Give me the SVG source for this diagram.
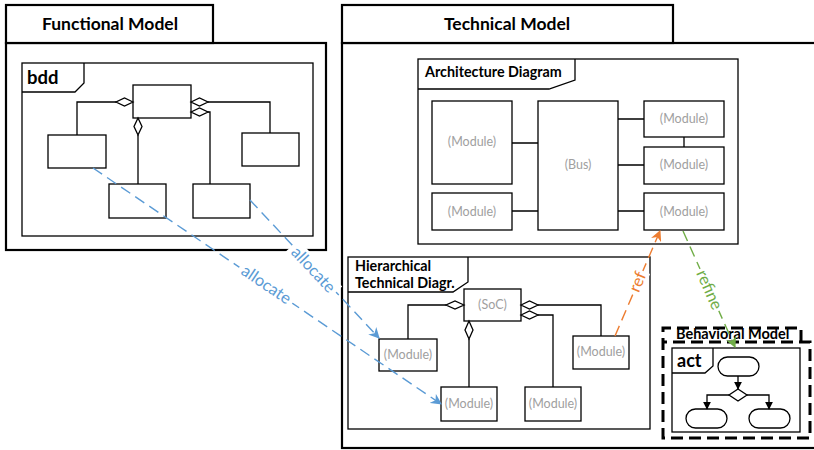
<svg xmlns="http://www.w3.org/2000/svg" width="814" height="450" viewBox="0 0 814 450">
  <style>
    .frame { fill: #fff; stroke: #000; stroke-width: 2.2; }
    .sub { fill: #fff; stroke: #000; stroke-width: 1.3; }
    .box { fill: #fff; stroke: #000; stroke-width: 1.3; }
    .ln { fill: none; stroke: #000; stroke-width: 1.3; }
    .dia { fill: #fff; stroke: #000; stroke-width: 1.3; }
    .title { font-family: Lato, "Liberation Sans", sans-serif; font-weight: bold; font-size: 17.5px; fill: #000; }
    .tab { font-family: Lato, "Liberation Sans", sans-serif; font-weight: bold; font-size: 14.3px; fill: #000; }
    .mod { font-family: Lato, "Liberation Sans", sans-serif; font-size: 12.5px; fill: #a0a0a0; text-anchor: middle; }
    .lbl { font-family: Lato, "Liberation Sans", sans-serif; font-size: 16.5px; text-anchor: middle; }
    .dash { fill: none; stroke-width: 1.4; stroke-dasharray: 11 6; }
    .bdash { fill: none; stroke: #000; stroke-width: 3; stroke-dasharray: 12 6; }
  </style>
  <defs>
    <marker id="arrBlue" viewBox="0 0 10 10" refX="9" refY="5" markerWidth="11" markerHeight="11" markerUnits="userSpaceOnUse" orient="auto">
      <path d="M0,0 L10,5 L0,10 L3,5 Z" fill="#5b9bd5"/>
    </marker>
    <marker id="arrOrange" viewBox="0 0 10 10" refX="9" refY="5" markerWidth="11" markerHeight="11" markerUnits="userSpaceOnUse" orient="auto">
      <path d="M0,0 L10,5 L0,10 L3,5 Z" fill="#ed7d31"/>
    </marker>
    <marker id="arrGreen" viewBox="0 0 10 10" refX="9" refY="5" markerWidth="11" markerHeight="11" markerUnits="userSpaceOnUse" orient="auto">
      <path d="M0,0 L10,5 L0,10 L3,5 Z" fill="#70ad47"/>
    </marker>
    <marker id="arrBlack" viewBox="0 0 10 10" refX="9" refY="5" markerWidth="8" markerHeight="8" markerUnits="userSpaceOnUse" orient="auto">
      <path d="M0,0 L10,5 L0,10 Z" fill="#000"/>
    </marker>
  </defs>

  <rect width="814" height="450" fill="#fff"/>

  <!-- Functional Model package -->
  <g id="functional-model">
    <rect class="frame" x="6" y="43" width="320" height="207"/>
    <rect class="frame" x="6" y="5" width="207" height="38"/>
    <text class="title" x="110" y="30" text-anchor="middle">Functional Model</text>

    <g id="bdd">
      <rect class="sub" x="22" y="63" width="291" height="173"/>
      <path class="ln" d="M22,92 L75,92 L84,83 L84,63"/>
      <text class="title" x="27" y="84" style="font-size:18.5px">bdd</text>

      <rect class="box" x="133" y="85" width="58" height="33"/>
      <rect class="box" x="48" y="135" width="58" height="33"/>
      <rect class="box" x="109" y="184" width="57" height="34"/>
      <rect class="box" x="193" y="184" width="57" height="34"/>
      <rect class="box" x="242" y="133" width="57" height="33"/>

      <path class="ln" d="M116,102 L77,102 L77,135"/>
      <path class="dia" d="M133,102 L124.5,98 L116,102 L124.5,106 Z"/>
      <path class="ln" d="M138,135 L138,184"/>
      <path class="dia" d="M138,118 L134,126.5 L138,135 L142,126.5 Z"/>
      <path class="ln" d="M208,102 L270,102 L270,133"/>
      <path class="dia" d="M191,102 L199.5,98 L208,102 L199.5,106 Z"/>
      <path class="ln" d="M208,112 L210,112 L210,184"/>
      <path class="dia" d="M191,112 L199.5,108 L208,112 L199.5,116 Z"/>
    </g>
  </g>

  <!-- Technical Model package -->
  <g id="technical-model">
    <rect class="frame" x="342" y="43" width="480" height="405"/>
    <rect class="frame" x="342" y="5" width="331" height="38"/>
    <text class="title" x="507" y="30" text-anchor="middle">Technical Model</text>

    <g id="architecture-diagram">
      <rect class="sub" x="418" y="59" width="320" height="185"/>
      <path class="ln" d="M418,89 L549,89 L575,80 L575,59"/>
      <text class="tab" x="425" y="77">Architecture Diagram</text>

      <g id="arch-module-a">
        <rect class="box" x="432" y="101" width="80" height="83"/>
        <text class="mod" x="472" y="146">(Module)</text>
      </g>
      <g id="arch-module-b">
        <rect class="box" x="432" y="193" width="80" height="37"/>
        <text class="mod" x="472" y="216">(Module)</text>
      </g>
      <g id="arch-bus">
        <rect class="box" x="538" y="101" width="80" height="129"/>
        <text class="mod" x="578" y="169">(Bus)</text>
      </g>
      <g id="arch-module-c">
        <rect class="box" x="644" y="101" width="80" height="36"/>
        <text class="mod" x="684" y="123">(Module)</text>
      </g>
      <g id="arch-module-d">
        <rect class="box" x="644" y="147" width="80" height="37"/>
        <text class="mod" x="684" y="169">(Module)</text>
      </g>
      <g id="arch-module-e">
        <rect class="box" x="644" y="193" width="80" height="37"/>
        <text class="mod" x="684" y="216">(Module)</text>
      </g>
      <g class="arch-links">
        <path class="ln" d="M512,143 L538,143 M512,211 L538,211 M618,119 L644,119 M618,165 L644,165 M618,211 L644,211 M684,137 L684,147"/>
      </g>
    </g>

    <g id="hierarchical-diagram">
      <rect class="sub" x="348" y="257" width="302" height="172"/>
      <path class="ln" d="M348,292 L453,292 L468,282 L468,257"/>
      <text class="tab" x="355" y="271">Hierarchical</text>
      <text class="tab" x="355" y="288">Technical Diagr.</text>

      <g id="soc">
        <rect class="box" x="464" y="289" width="57" height="32"/>
        <text class="mod" x="492.5" y="309">(SoC)</text>
      </g>
      <g id="hier-module-left">
        <rect class="box" x="379" y="339" width="58" height="32"/>
        <text class="mod" x="408" y="359">(Module)</text>
      </g>
      <g id="hier-module-mid">
        <rect class="box" x="441" y="387" width="56" height="34"/>
        <text class="mod" x="469" y="408">(Module)</text>
      </g>
      <g id="hier-module-bottom-right">
        <rect class="box" x="525" y="387" width="56" height="34"/>
        <text class="mod" x="553" y="408">(Module)</text>
      </g>
      <g id="hier-module-right">
        <rect class="box" x="573" y="336" width="56" height="33"/>
        <text class="mod" x="601" y="356">(Module)</text>
      </g>
      <g class="hier-links">
        <path class="ln" d="M446,305 L408,305 L408,339"/>
        <path class="dia" d="M464,305 L455,301 L446,305 L455,309 Z"/>
        <path class="ln" d="M469,339 L469,387"/>
        <path class="dia" d="M469,321 L465,330 L469,339 L473,330 Z"/>
        <path class="ln" d="M538,305 L601,305 L601,336"/>
        <path class="dia" d="M521,305 L529.5,301 L538,305 L529.5,309 Z"/>
        <path class="ln" d="M538,315 L553,315 L553,387"/>
        <path class="dia" d="M521,315 L529.5,311 L538,315 L529.5,319 Z"/>
      </g>
    </g>
  </g>

  <!-- Behavioral Model package (dashed outline) -->
  <g id="behavioral-model">
    <rect x="663" y="342" width="147" height="96" fill="#fff"/>
    <path class="bdash" d="M801,342 L801,328 L663,328 L663,438 L810,438 L810,342 L663,342"/>
    <text class="title" x="676" y="339" style="font-size:14.5px">Behavioral Model</text>

    <g id="act">
      <rect class="sub" x="672" y="348" width="128" height="84"/>
      <path class="ln" d="M672,373 L705,373 L713,366 L713,348"/>
      <text class="title" x="677" y="367" style="font-size:18px">act</text>

      <rect class="box" x="718" y="357" width="41" height="19" rx="9.5"/>
      <rect class="box" x="686" y="409" width="41" height="19" rx="9.5"/>
      <rect class="box" x="749" y="409" width="41" height="19" rx="9.5"/>
      <path class="dia" d="M738,389 L747,395 L738,401 L729,395 Z"/>
      <path class="ln" d="M738,376 L738,389" marker-end="url(#arrBlack)"/>
      <path class="ln" d="M729,395 L707,395 L707,409" marker-end="url(#arrBlack)"/>
      <path class="ln" d="M747,395 L769,395 L769,409" marker-end="url(#arrBlack)"/>
    </g>
  </g>

  <!-- Cross-model relations -->
  <g id="connectors">
    <path class="dash" stroke="#5b9bd5" d="M250,200 L379,338" marker-end="url(#arrBlue)"/>
    <path class="dash" stroke="#5b9bd5" d="M93,168 L441,404" marker-end="url(#arrBlue)"/>
    <path class="dash" stroke="#ed7d31" d="M615,336 L660,231" marker-end="url(#arrOrange)"/>
    <path class="dash" stroke="#70ad47" d="M683,231 L735,347" marker-end="url(#arrGreen)"/>

    <g transform="translate(313,270) rotate(47)">
      <rect x="-32" y="-10" width="64" height="18" fill="#fff"/>
      <text class="lbl" x="0" y="5" fill="#5b9bd5">allocate</text>
    </g>
    <g transform="translate(266,285) rotate(34)">
      <rect x="-32" y="-10" width="64" height="18" fill="#fff"/>
      <text class="lbl" x="0" y="5" fill="#5b9bd5">allocate</text>
    </g>
    <g transform="translate(638,282) rotate(-67)">
      <rect x="-12" y="-10" width="24" height="18" fill="#fff"/>
      <text class="lbl" x="0" y="5" fill="#ed7d31">ref</text>
    </g>
    <g transform="translate(709,290) rotate(66)">
      <rect x="-23" y="-10" width="46" height="18" fill="#fff"/>
      <text class="lbl" x="0" y="5" fill="#70ad47">refine</text>
    </g>
  </g>
</svg>
